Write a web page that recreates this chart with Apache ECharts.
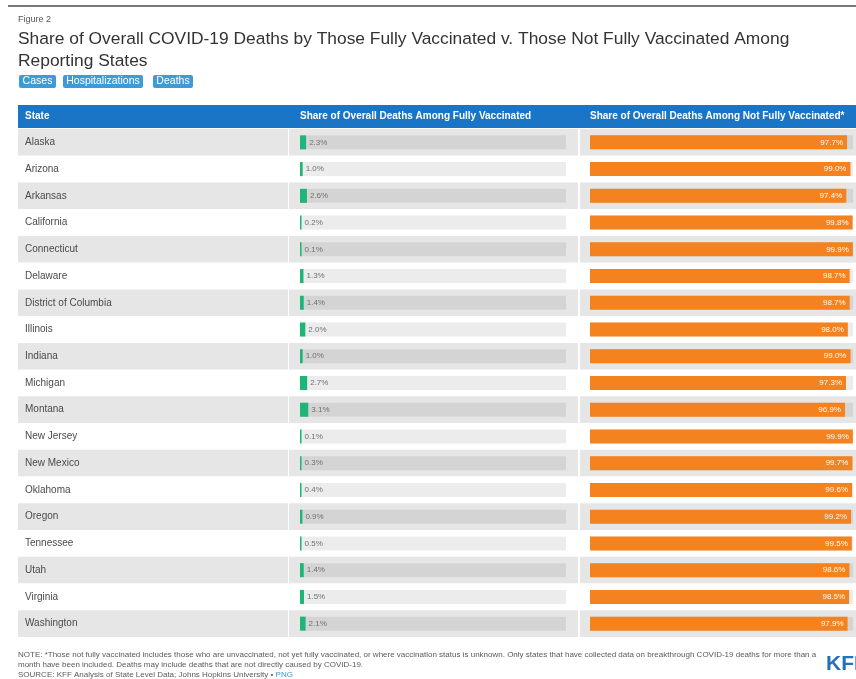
<!DOCTYPE html>
<html>
<head>
<meta charset="utf-8">
<script src="https://cdn.jsdelivr.net/npm/echarts@6/dist/echarts.min.js"></script>
<style>
html,body{margin:0;padding:0;background:#fff;}
#chart{width:856px;height:679px;}
</style>
</head>
<body>
<div id="chart"></div>
<script>
const states = ['Alaska','Arizona','Arkansas','California','Connecticut','Delaware','District of Columbia','Illinois','Indiana','Michigan','Montana','New Jersey','New Mexico','Oklahoma','Oregon','Tennessee','Utah','Virginia','Washington'];
const fullyVax = [2.3,1.0,2.6,0.2,0.1,1.3,1.4,2.0,1.0,2.7,3.1,0.1,0.3,0.4,0.9,0.5,1.4,1.5,2.1];
const notFullyVax = [97.7,99.0,97.4,99.8,99.9,98.7,98.7,98.0,99.0,97.3,96.9,99.9,99.7,99.6,99.2,99.5,98.6,98.5,97.9];
const trackMax = 100;
const columnHeaders = ['State','Share of Overall Deaths Among Fully Vaccinated','Share of Overall Deaths Among Not Fully Vaccinated*'];
const buttons = ['Cases','Hospitalizations','Deaths'];
const titleLines = ['Share of Overall COVID-19 Deaths by Those Fully Vaccinated v. Those Not Fully Vaccinated Among','Reporting States'];
const noteLines = [
  'NOTE: *Those not fully vaccinated includes those who are unvaccinated, not yet fully vaccinated, or where vaccination status is unknown. Only states that have collected data on breakthrough COVID-19 deaths for more than a',
  'month have been included. Deaths may include deaths that are not directly caused by COVID-19.',
  'SOURCE: KFF Analysis of State Level Data; Johns Hopkins University \u2022 {link|PNG}'
];

const FF = '"Liberation Sans", Arial, sans-serif';
const track = states.map(() => trackMax);
const pct = p => p.value.toFixed(1) + '%';

const chart = echarts.init(document.getElementById('chart'), null, {renderer:'canvas'});

const rowBands = {show:true, areaStyle:{color:['#e6e6e6','#ffffff']}};

function catAxis(idx, showLabel){
  return {
    type:'category', gridIndex:idx, data:states, inverse:true,
    axisLine:{show:false}, axisTick:{show:false}, splitLine:{show:false},
    splitArea: rowBands,
    axisLabel: showLabel ? {show:true, inside:true, margin:7, interval:0, align:'left', fontSize:10, color:'#4a4a4a', fontFamily:FF} : {show:false, interval:0}
  };
}

const btnX = [19, 63, 153];
const btnW = [37, 80, 40];
const graphics = [
  {type:'line', shape:{x1:8, y1:6, x2:856, y2:6}, style:{stroke:'#4a4a4a', lineWidth:1.5}},
  {type:'rect', shape:{x:18, y:105, width:838, height:23}, style:{fill:'#1b75c6'}}
];
buttons.forEach((b,i) => {
  graphics.push({type:'rect', shape:{x:btnX[i], y:75, width:btnW[i], height:13, r:2}, style:{fill:'#3d9bd8'}});
  graphics.push({type:'text', x:btnX[i]+btnW[i]/2, y:81.5, style:{text:b, fill:'#fff', font:'10.5px '+FF, textAlign:'center', textVerticalAlign:'middle', verticalAlign:'middle'}});
});
const hdrX = [25, 300, 590];
columnHeaders.forEach((h,i) => {
  graphics.push({type:'text', x:hdrX[i], y:116.5, style:{text:h, fill:'#fff', font:'bold 10px '+FF, textAlign:'left', textVerticalAlign:'middle', verticalAlign:'middle'}});
});
graphics.push({type:'text', x:826, y:664, style:{text:'KFF', fill:'#2471ba', font:'bold 21px '+FF, textAlign:'left', textVerticalAlign:'middle', verticalAlign:'middle'}});

const option = {
  animation:false,
  backgroundColor:'#fff',
  title:[
    {text:'Figure 2', left:18, top:15, padding:0, textStyle:{fontSize:9, fontWeight:'normal', color:'#555', fontFamily:FF}},
    {text:titleLines.join('\n'), left:18, top:28, padding:0, textStyle:{fontSize:17.4, fontWeight:'normal', color:'#333', lineHeight:22, fontFamily:FF}},
    {text:noteLines.join('\n'), left:18, top:650, padding:0, textStyle:{fontSize:8, fontWeight:'normal', color:'#5a5a5a', lineHeight:10, fontFamily:FF, rich:{link:{fontSize:8, color:'#3a9ad9', fontFamily:FF}}}}
  ],
  grid:[
    {left:18, top:129, width:270, height:508},
    {left:289, top:129, width:289, height:508},
    {left:580, top:129, width:276, height:508}
  ],
  xAxis:[
    {type:'value', gridIndex:0, min:0, max:1, show:false},
    {type:'value', gridIndex:1, min:-4.14, max:104.5, show:false},
    {type:'value', gridIndex:2, min:-3.8, max:101.1, show:false}
  ],
  yAxis:[catAxis(0,true), catAxis(1,false), catAxis(2,false)],
  series:[
    {type:'bar', xAxisIndex:1, yAxisIndex:1, data:track, barWidth:14, barGap:'-100%', silent:true, itemStyle:{color:'rgba(0,0,0,0.075)'}},
    {type:'bar', xAxisIndex:1, yAxisIndex:1, data:fullyVax, barWidth:14, barGap:'-100%', barMinHeight:1.5, itemStyle:{color:'#1fb576'},
      label:{show:true, position:'right', distance:3, fontSize:8, color:'#707070', fontFamily:FF, formatter:pct}},
    {type:'bar', xAxisIndex:2, yAxisIndex:2, data:track, barWidth:14, barGap:'-100%', silent:true, itemStyle:{color:'rgba(0,0,0,0.075)'}},
    {type:'bar', xAxisIndex:2, yAxisIndex:2, data:notFullyVax, barWidth:14, barGap:'-100%', itemStyle:{color:'#f4821f'},
      label:{show:true, position:'insideRight', distance:4, fontSize:8, color:'#fff', fontFamily:FF, formatter:pct}}
  ],
  graphic:graphics
};
chart.setOption(option);
</script>
</body>
</html>
